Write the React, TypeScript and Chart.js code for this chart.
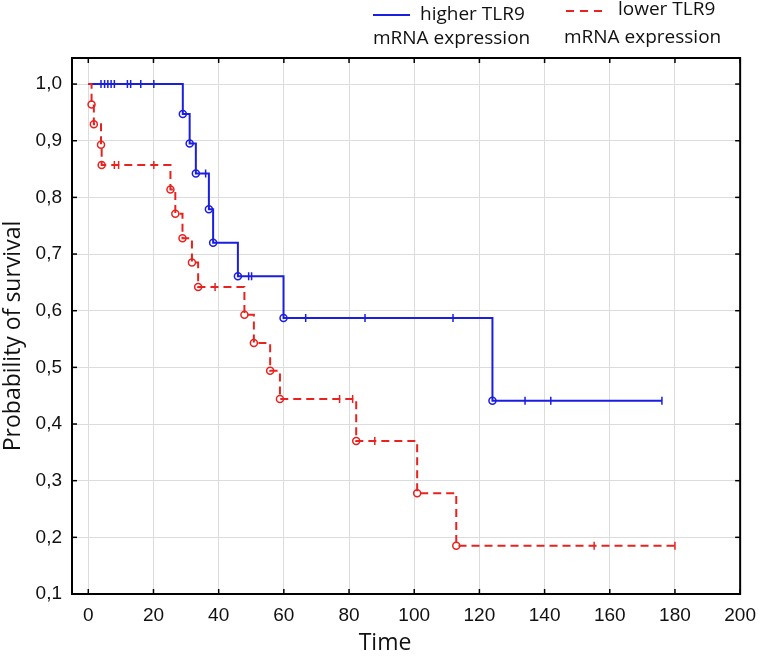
import { useEffect, useRef } from 'react';
import { Chart, registerables } from 'chart.js';

Chart.register(...registerables);

// ---- data ----
const xTicks = [0, 20, 40, 60, 80, 100, 120, 140, 160, 180, 200];
const yTicks = [0.1, 0.2, 0.3, 0.4, 0.5, 0.6, 0.7, 0.8, 0.9, 1.0];

// higher TLR9 mRNA expression (solid blue)
const higherStepTimes = [0, 29.0, 31.1, 33.0, 37.0, 38.3, 45.9, 59.9, 124.0, 176.0];
const higherStepSurvival = [1.0, 0.947, 0.895, 0.842, 0.779, 0.72, 0.661, 0.587, 0.441, 0.441];
const higherEventTimes = [29.0, 31.1, 33.0, 37.0, 38.3, 45.9, 59.9, 124.0];
const higherEventSurvival = [0.947, 0.895, 0.842, 0.779, 0.72, 0.661, 0.587, 0.441];
const higherCensorTimes = [3.9, 5.0, 6.0, 7.0, 8.0, 12.0, 13.0, 16.1, 20.1, 36.0, 49.2, 50.1, 66.7, 84.9, 111.9, 134.0, 141.9, 176.0];
const higherCensorSurvival = [1, 1, 1, 1, 1, 1, 1, 1, 1, 0.842, 0.661, 0.661, 0.587, 0.587, 0.587, 0.441, 0.441, 0.441];

// lower TLR9 mRNA expression (dashed red)
const lowerStepTimes = [0, 1.0, 1.7, 3.9, 4.1, 25.2, 26.7, 28.9, 31.8, 33.7, 47.9, 50.8, 55.8, 58.8, 82.2, 100.9, 112.9, 180.0];
const lowerStepSurvival = [1.0, 0.964, 0.929, 0.893, 0.857, 0.814, 0.771, 0.728, 0.685, 0.642, 0.593, 0.543, 0.494, 0.444, 0.37, 0.278, 0.185, 0.185];
const lowerEventTimes = [1.0, 1.7, 3.9, 4.1, 25.2, 26.7, 28.9, 31.8, 33.7, 47.9, 50.8, 55.8, 58.8, 82.2, 100.9, 112.9];
const lowerEventSurvival = [0.964, 0.929, 0.893, 0.857, 0.814, 0.771, 0.728, 0.685, 0.642, 0.593, 0.543, 0.494, 0.444, 0.37, 0.278, 0.185];
const lowerCensorTimes = [8.0, 9.3, 20.1, 38.9, 77.1, 81.1, 87.9, 155.2, 180.0];
const lowerCensorSurvival = [0.857, 0.857, 0.857, 0.642, 0.444, 0.444, 0.37, 0.185, 0.185];

const legendHigher = ['higher TLR9', 'mRNA expression'];
const legendLower = ['lower TLR9', 'mRNA expression'];
const xTitle = 'Time';
const yTitle = 'Probability of survival';

const BLUE = '#1a1ee0';
const RED = '#e8221e';

const pts = (xs: number[], ys: number[]) => xs.map((x, i) => ({ x, y: ys[i] }));

const decorPlugin = {
  id: 'decor',
  afterDraw(chart: any) {
    const { ctx, chartArea: a, scales } = chart;
    const x = scales.x;
    const y = scales.y;
    ctx.save();
    const line = (x1: number, y1: number, x2: number, y2: number) => {
      ctx.beginPath();
      ctx.moveTo(x1, y1);
      ctx.lineTo(x2, y2);
      ctx.stroke();
    };
    // inward tick marks
    ctx.strokeStyle = '#000';
    ctx.lineWidth = 1.5;
    xTicks.forEach((v) => {
      const px = x.getPixelForValue(v);
      line(px, a.bottom, px, a.bottom - 5);
      line(px, a.top, px, a.top + 5);
    });
    yTicks.forEach((v) => {
      const py = y.getPixelForValue(v);
      line(a.left, py, a.left + 5, py);
      line(a.right, py, a.right - 5, py);
    });
    // frame
    ctx.lineWidth = 2;
    ctx.strokeRect(a.left, a.top, a.right - a.left, a.bottom - a.top);

    // axis titles
    ctx.fillStyle = '#111';
    ctx.font = '23px "Open Sans"';
    ctx.textAlign = 'center';
    ctx.textBaseline = 'middle';
    ctx.fillText(xTitle, 385, 643);
    ctx.save();
    ctx.translate(13, 336);
    ctx.rotate(-Math.PI / 2);
    ctx.fillText(yTitle, 0, 0);
    ctx.restore();

    // legend
    ctx.font = '19px "Open Sans"';
    ctx.textAlign = 'left';
    ctx.fillStyle = '#111';
    ctx.strokeStyle = BLUE;
    ctx.lineWidth = 2;
    ctx.setLineDash([]);
    line(373, 15, 410, 15);
    ctx.fillText(legendHigher[0], 420, 15);
    ctx.fillText(legendHigher[1], 373, 39);
    ctx.strokeStyle = RED;
    ctx.setLineDash([8, 6]);
    line(566, 11, 603, 11);
    ctx.setLineDash([]);
    ctx.fillText(legendLower[0], 618, 10);
    ctx.fillText(legendLower[1], 564, 38);
    ctx.restore();
  },
};

export default function App() {
  const ref = useRef<HTMLCanvasElement>(null);
  useEffect(() => {
    document.body.style.margin = '0';
    const chart = new Chart(ref.current!, {
      type: 'scatter',
      data: {
        datasets: [
          {
            label: 'lower line',
            data: pts(lowerStepTimes, lowerStepSurvival),
            showLine: true,
            stepped: 'before',
            borderColor: RED,
            borderWidth: 2,
            borderDash: [8, 5],
            pointRadius: 0,
            order: 0,
          },
          {
            label: 'lower events',
            data: pts(lowerEventTimes, lowerEventSurvival),
            showLine: false,
            pointStyle: 'circle',
            pointRadius: 3.5,
            pointBorderWidth: 1.5,
            borderColor: RED,
            backgroundColor: 'rgba(0,0,0,0)',
            order: 0,
          },
          {
            label: 'lower censored',
            data: pts(lowerCensorTimes, lowerCensorSurvival),
            showLine: false,
            pointStyle: 'line',
            rotation: 90,
            pointRadius: 4,
            pointBorderWidth: 1.5,
            borderColor: RED,
            order: 0,
          },
          {
            label: 'higher line',
            data: pts(higherStepTimes, higherStepSurvival),
            showLine: true,
            stepped: 'before',
            borderColor: BLUE,
            borderWidth: 2,
            pointRadius: 0,
            order: 1,
          },
          {
            label: 'higher events',
            data: pts(higherEventTimes, higherEventSurvival),
            showLine: false,
            pointStyle: 'circle',
            pointRadius: 3.5,
            pointBorderWidth: 1.5,
            borderColor: BLUE,
            backgroundColor: 'rgba(0,0,0,0)',
            order: 1,
          },
          {
            label: 'higher censored',
            data: pts(higherCensorTimes, higherCensorSurvival),
            showLine: false,
            pointStyle: 'line',
            rotation: 90,
            pointRadius: 4,
            pointBorderWidth: 1.5,
            borderColor: BLUE,
            order: 1,
          },
        ],
      } as any,
      options: {
        responsive: false,
        animation: false,
        events: [],
        layout: { padding: { top: 58, right: 18, left: 0, bottom: 0 } },
        plugins: { legend: { display: false }, tooltip: { enabled: false } },
        scales: {
          x: {
            type: 'linear',
            min: -5,
            max: 200,
            afterBuildTicks: (s: any) => {
              s.ticks = xTicks.map((v) => ({ value: v }));
            },
            afterFit: (s: any) => {
              s.height = 63;
            },
            grid: { color: '#dcdcdc', lineWidth: 1, drawTicks: false },
            border: { display: false },
            ticks: {
              padding: 10,
              color: '#111',
              font: { family: '"Liberation Sans", Arial, sans-serif', size: 19 },
              maxRotation: 0,
              callback: (v: any) => String(v),
            },
          },
          y: {
            type: 'linear',
            min: 0.1,
            max: 1.046,
            afterBuildTicks: (s: any) => {
              s.ticks = yTicks.map((v) => ({ value: v }));
            },
            afterFit: (s: any) => {
              s.width = 72;
            },
            grid: { color: '#dcdcdc', lineWidth: 1, drawTicks: false },
            border: { display: false },
            ticks: {
              padding: 10,
              color: '#111',
              font: { family: '"Liberation Sans", Arial, sans-serif', size: 19 },
              callback: (v: any) => Number(v).toFixed(1).replace('.', ','),
            },
          },
        },
      } as any,
      plugins: [decorPlugin],
    });
    return () => chart.destroy();
  }, []);
  return (
    <div style={{ position: 'absolute', left: 0, top: 0, width: 766, height: 657 }}>
      <canvas ref={ref} width={766} height={657} style={{ display: 'block' }} />
    </div>
  );
}
